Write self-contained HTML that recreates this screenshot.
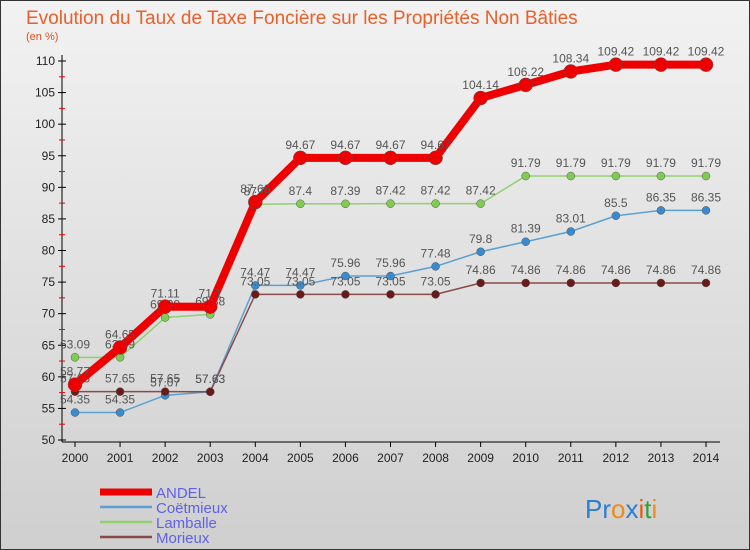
<!DOCTYPE html>
<html><head><meta charset="utf-8"><style>
body{margin:0}
svg{display:block;font-family:"Liberation Sans","DejaVu Sans",sans-serif}
</style></head><body>
<svg id="c" width="750" height="550" viewBox="0 0 750 550">
<defs><linearGradient id="bg" x1="0" y1="0" x2="0" y2="1"><stop offset="0" stop-color="#f2f2f2"/><stop offset="1" stop-color="#cfcfcf"/></linearGradient></defs>
<rect x="0.5" y="0.5" width="749" height="549" fill="url(#bg)" stroke="#333"/>
<text x="26" y="24" font-size="19" fill="#e8602a">Evolution du Taux de Taxe Foncière sur les Propriétés Non Bâties</text>
<text x="26" y="40" font-size="11" fill="#e05020">(en %)</text>
<g id="axes"></g><g id="series"></g><g id="legend"></g>
<text x="585" y="518" font-size="26"><tspan fill="#2a7fd0">Pr</tspan><tspan fill="#f08a10">o</tspan><tspan fill="#2a7fd0">x</tspan><tspan fill="#f05a10">i</tspan><tspan fill="#30a040">t</tspan><tspan fill="#f08a10">i</tspan></text>
</svg>
<script>
const years=[2000,2001,2002,2003,2004,2005,2006,2007,2008,2009,2010,2011,2012,2013,2014];
const yTicks=[50,55,60,65,70,75,80,85,90,95,100,105,110];
const andel=[58.77,64.65,71.11,71.1,87.66,94.67,94.67,94.67,94.67,104.14,106.22,108.34,109.42,109.42,109.42];
const coet=[54.35,54.35,57.07,57.63,74.47,74.47,75.96,75.96,77.48,79.8,81.39,83.01,85.5,86.35,86.35];
const lamb=[63.09,63.09,69.39,69.88,87.3,87.4,87.39,87.42,87.42,87.42,91.79,91.79,91.79,91.79,91.79];
const mori=[57.65,57.65,57.65,57.63,73.05,73.05,73.05,73.05,73.05,74.86,74.86,74.86,74.86,74.86,74.86];
const NS='http://www.w3.org/2000/svg';
const X=i=>75+i*(706-75)/(years.length-1);
const Y=v=>440-(v-50)*(440-61)/60;
function mk(t,a,p){const e=document.createElementNS(NS,t);for(const k in a)e.setAttribute(k,a[k]);p.appendChild(e);return e;}
const ax=document.getElementById('axes');
let yl=mk('line',{x1:62,y1:55,x2:62,y2:442,stroke:'#000'},ax);


let xl=mk('line',{x1:62,y1:442,x2:720,y2:442,stroke:'#000'},ax);


yTicks.forEach((v,i)=>{
  mk('line',{x1:58,y1:Y(v),x2:66,y2:Y(v),stroke:'#000'},ax);
  if(i<yTicks.length-1)mk('line',{x1:59,y1:Y(v+2.5),x2:65,y2:Y(v+2.5),stroke:'#e00'},ax);
  const t=mk('text',{x:55,y:Y(v)+4,'text-anchor':'end','font-size':12,fill:'#222'},ax);t.textContent=v;
  
  
});
years.forEach((y,i)=>{
  mk('line',{x1:X(i),y1:442,x2:X(i),y2:447,stroke:'#000'},ax);
  const t=mk('text',{x:X(i),y:462,'text-anchor':'middle','font-size':12,fill:'#222'},ax);t.textContent=y;
  
  
});
const sg=document.getElementById('series');
const defs=[
 {n:'coetmieux',d:coet,c:'#5aa0d0',w:1.5,r:4,f:'#3a8ad0',lab:'Coëtmieux'},
 {n:'lamballe',d:lamb,c:'#90d070',w:1.5,r:4,f:'#80cc50',lab:'Lamballe'},
 {n:'morieux',d:mori,c:'#8a4a4a',w:1.5,r:4,f:'#6a1a1a',lab:'Morieux'},
 {n:'andel',d:andel,c:'#ee0000',w:8,r:7,f:'#ee0000',lab:'ANDEL'}];
defs.forEach(s=>{
  const g=mk('g',{},sg);
  
  
  const pl=mk('polyline',{points:s.d.map((v,i)=>X(i)+','+Y(v)).join(' '),fill:'none',stroke:s.c,'stroke-width':s.w,'stroke-linejoin':'round'},g);
  
  
  s.d.forEach((v,i)=>{
    const c=mk('circle',{cx:X(i),cy:Y(v),r:s.r,fill:s.f,stroke:'#555','stroke-width':0.5},g);
    
    
    const t=mk('text',{x:X(i),y:Y(v)-9,'text-anchor':'middle','font-size':12,fill:'#555'},g);t.textContent=v;
    
    
  });
});
const lg=document.getElementById('legend');
[defs[3],defs[0],defs[1],defs[2]].forEach((s,i)=>{
  const y=492+i*15;
  const l=mk('line',{x1:100,y1:y,x2:152,y2:y,stroke:s.c,'stroke-width':s.n==='andel'?7:2.5},lg);
  
  
  const t=mk('text',{x:156,y:y+6,'font-size':15,fill:'#6060e8'},lg);t.textContent=s.lab;
  
  
});
</script>
</body></html>
